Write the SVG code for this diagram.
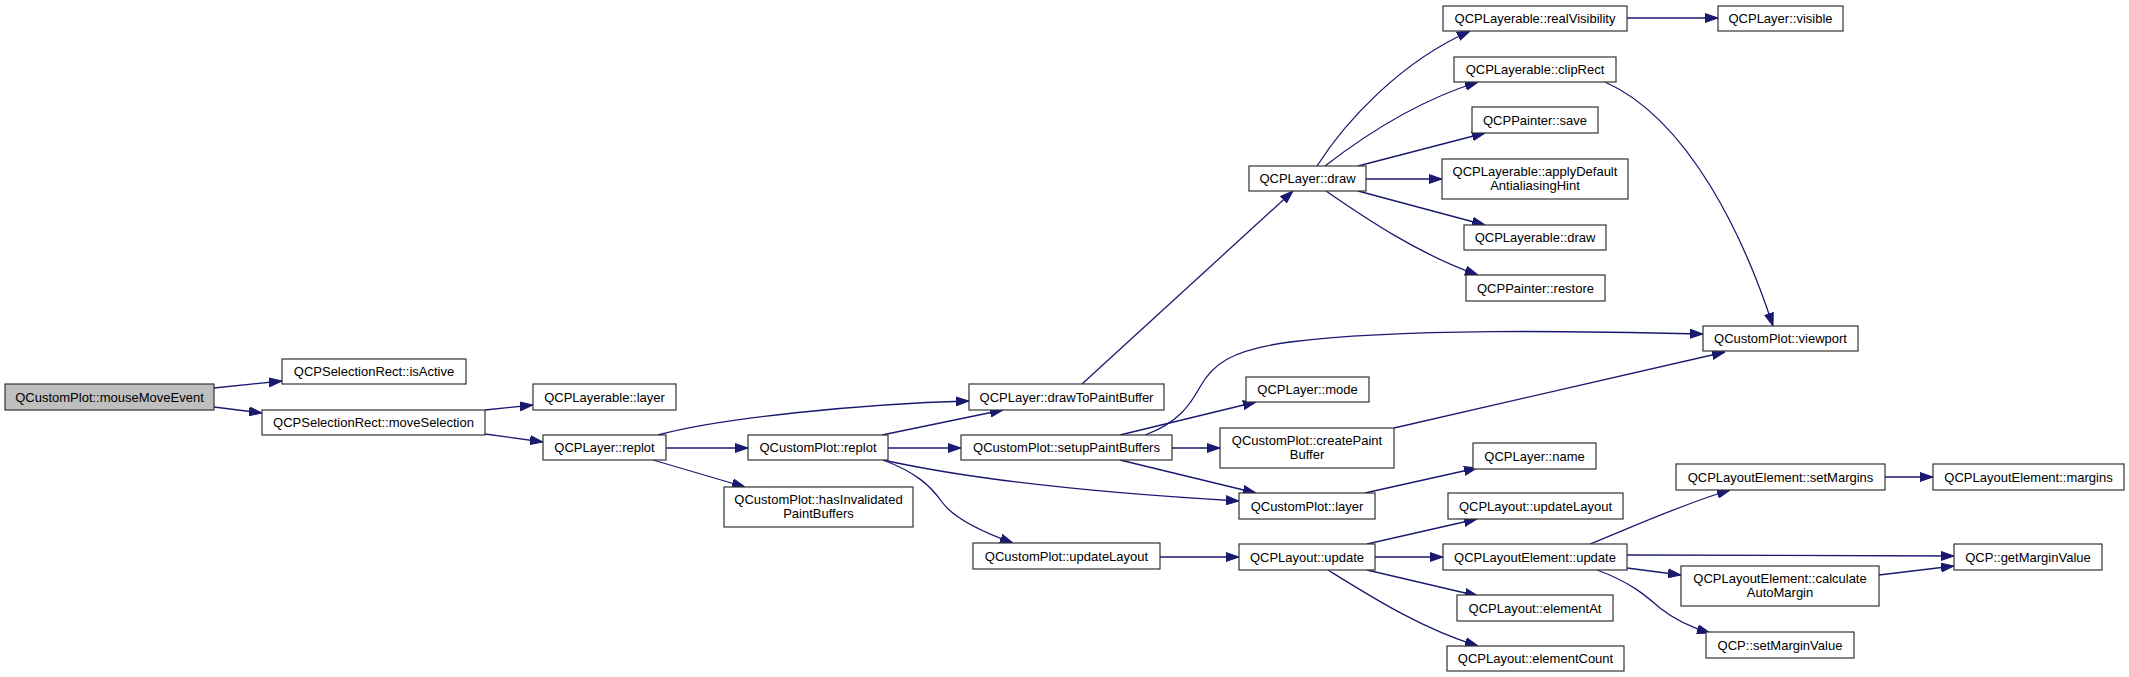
<svg xmlns="http://www.w3.org/2000/svg" width="2129" height="677" viewBox="0 0 2129 677">
<style>
.n rect{fill:#ffffff;stroke:#333333;stroke-width:1.2}
.n.root rect{fill:#bfbfbf}
.n text{font-family:"Liberation Sans",Arial,sans-serif;font-size:13px;fill:#000;text-anchor:middle}
#edges path{fill:none;stroke:#191970;stroke-width:1.3;marker-end:url(#arr)}
</style>
<defs>
<marker id="arr" markerUnits="userSpaceOnUse" markerWidth="13" markerHeight="10" refX="13" refY="5" orient="auto" viewBox="0 0 13 10">
<path d="M0,0.5 L13,5 L0,9.5 z" fill="#191970" stroke="#191970" stroke-width="1"/>
</marker>
</defs>
<rect width="2129" height="677" fill="#ffffff"/>
<g id="edges">
<path d="M214,388 L282,381"/>
<path d="M214,407 L262,413"/>
<path d="M485,410 L533,405"/>
<path d="M485,434 L543,442"/>
<path d="M658,435 C720,418 860,404 969,401"/>
<path d="M666,448 L748,448"/>
<path d="M653,460 L745,487"/>
<path d="M882,435 L1003,410"/>
<path d="M888,448 L961,448"/>
<path d="M883,460 C960,477 1080,492 1239,501"/>
<path d="M883,460 C915,472 930,485 942,502 C955,520 985,533 1013,543"/>
<path d="M1082,384 L1293,191"/>
<path d="M1145,435 C1178,423 1190,405 1200,387 C1212,365 1230,350 1290,342 C1400,328 1580,331 1703,334"/>
<path d="M1120,435 L1256,402"/>
<path d="M1172,448 L1220,448"/>
<path d="M1120,460 L1256,493"/>
<path d="M1394,428 L1725,352"/>
<path d="M1365,493 L1477,468"/>
<path d="M1160,557 L1239,557"/>
<path d="M1367,544 L1477,519"/>
<path d="M1375,557 L1443,557"/>
<path d="M1367,570 L1478,596"/>
<path d="M1328,570 C1370,596 1420,628 1478,646"/>
<path d="M1590,544 C1630,528 1680,505 1730,490"/>
<path d="M1627,555 L1954,556"/>
<path d="M1627,568 L1681,575"/>
<path d="M1597,570 C1630,582 1645,595 1660,608 C1675,620 1690,627 1710,633"/>
<path d="M1879,575 L1954,566"/>
<path d="M1885,477 L1933,477"/>
<path d="M1317,166 C1345,122 1400,62 1470,31"/>
<path d="M1325,166 C1365,135 1420,100 1478,82"/>
<path d="M1358,166 L1485,133"/>
<path d="M1366,179 L1442,179"/>
<path d="M1358,191 L1485,225"/>
<path d="M1326,191 C1365,218 1420,255 1478,275"/>
<path d="M1627,18 L1718,18"/>
<path d="M1605,82 C1690,120 1745,240 1773,326"/>
</g>
<g id="n_mouseMoveEvent" class="n root"><rect x="5" y="384" width="209" height="26"/><text x="109.5" y="401.5">QCustomPlot::mouseMoveEvent</text></g>
<g id="n_isActive" class="n"><rect x="282" y="359" width="184" height="25"/><text x="374" y="376">QCPSelectionRect::isActive</text></g>
<g id="n_moveSelection" class="n"><rect x="262" y="410" width="223" height="25"/><text x="373.5" y="427">QCPSelectionRect::moveSelection</text></g>
<g id="n_layerableLayer" class="n"><rect x="533" y="384" width="143" height="26"/><text x="604.5" y="401.5">QCPLayerable::layer</text></g>
<g id="n_layerReplot" class="n"><rect x="543" y="435" width="123" height="25"/><text x="604.5" y="452">QCPLayer::replot</text></g>
<g id="n_plotReplot" class="n"><rect x="748" y="435" width="140" height="25"/><text x="818" y="452">QCustomPlot::replot</text></g>
<g id="n_hasInvalidated" class="n"><rect x="724" y="487" width="189" height="40"/><text x="818.5" y="503.5">QCustomPlot::hasInvalidated</text><text x="818.5" y="517.5">PaintBuffers</text></g>
<g id="n_drawToPaintBuffer" class="n"><rect x="969" y="384" width="195" height="26"/><text x="1066.5" y="401.5">QCPLayer::drawToPaintBuffer</text></g>
<g id="n_setupPaintBuffers" class="n"><rect x="961" y="435" width="211" height="25"/><text x="1066.5" y="452">QCustomPlot::setupPaintBuffers</text></g>
<g id="n_plotUpdateLayout" class="n"><rect x="973" y="543" width="187" height="26"/><text x="1066.5" y="560.5">QCustomPlot::updateLayout</text></g>
<g id="n_layerDraw" class="n"><rect x="1249" y="166" width="117" height="25"/><text x="1307.5" y="183">QCPLayer::draw</text></g>
<g id="n_realVisibility" class="n"><rect x="1443" y="6" width="184" height="25"/><text x="1535" y="23">QCPLayerable::realVisibility</text></g>
<g id="n_visible" class="n"><rect x="1718" y="6" width="125" height="25"/><text x="1780.5" y="23">QCPLayer::visible</text></g>
<g id="n_clipRect" class="n"><rect x="1454" y="57" width="162" height="25"/><text x="1535" y="74">QCPLayerable::clipRect</text></g>
<g id="n_save" class="n"><rect x="1472" y="107" width="126" height="26"/><text x="1535" y="124.5">QCPPainter::save</text></g>
<g id="n_applyDefault" class="n"><rect x="1442" y="159" width="186" height="40"/><text x="1535" y="175.5">QCPLayerable::applyDefault</text><text x="1535" y="189.5">AntialiasingHint</text></g>
<g id="n_layerableDraw" class="n"><rect x="1464" y="225" width="142" height="25"/><text x="1535" y="242">QCPLayerable::draw</text></g>
<g id="n_restore" class="n"><rect x="1466" y="275" width="139" height="26"/><text x="1535.5" y="292.5">QCPPainter::restore</text></g>
<g id="n_viewport" class="n"><rect x="1703" y="326" width="155" height="25"/><text x="1780.5" y="343">QCustomPlot::viewport</text></g>
<g id="n_mode" class="n"><rect x="1246" y="377" width="123" height="25"/><text x="1307.5" y="394">QCPLayer::mode</text></g>
<g id="n_createPaintBuffer" class="n"><rect x="1220" y="428" width="174" height="40"/><text x="1307" y="444.5">QCustomPlot::createPaint</text><text x="1307" y="458.5">Buffer</text></g>
<g id="n_layerName" class="n"><rect x="1473" y="443" width="123" height="26"/><text x="1534.5" y="460.5">QCPLayer::name</text></g>
<g id="n_plotLayer" class="n"><rect x="1239" y="493" width="136" height="26"/><text x="1307" y="510.5">QCustomPlot::layer</text></g>
<g id="n_layoutUpdateLayout" class="n"><rect x="1448" y="493" width="175" height="26"/><text x="1535.5" y="510.5">QCPLayout::updateLayout</text></g>
<g id="n_setMargins" class="n"><rect x="1676" y="464" width="209" height="26"/><text x="1780.5" y="481.5">QCPLayoutElement::setMargins</text></g>
<g id="n_margins" class="n"><rect x="1933" y="464" width="191" height="26"/><text x="2028.5" y="481.5">QCPLayoutElement::margins</text></g>
<g id="n_layoutUpdate" class="n"><rect x="1239" y="544" width="136" height="26"/><text x="1307" y="561.5">QCPLayout::update</text></g>
<g id="n_elementUpdate" class="n"><rect x="1443" y="544" width="184" height="26"/><text x="1535" y="561.5">QCPLayoutElement::update</text></g>
<g id="n_getMarginValue" class="n"><rect x="1954" y="544" width="148" height="26"/><text x="2028" y="561.5">QCP::getMarginValue</text></g>
<g id="n_calculateAutoMargin" class="n"><rect x="1681" y="566" width="198" height="40"/><text x="1780" y="582.5">QCPLayoutElement::calculate</text><text x="1780" y="596.5">AutoMargin</text></g>
<g id="n_elementAt" class="n"><rect x="1457" y="595" width="156" height="26"/><text x="1535" y="612.5">QCPLayout::elementAt</text></g>
<g id="n_setMarginValue" class="n"><rect x="1706" y="632" width="148" height="26"/><text x="1780" y="649.5">QCP::setMarginValue</text></g>
<g id="n_elementCount" class="n"><rect x="1447" y="646" width="177" height="25"/><text x="1535.5" y="663">QCPLayout::elementCount</text></g>
</svg>
